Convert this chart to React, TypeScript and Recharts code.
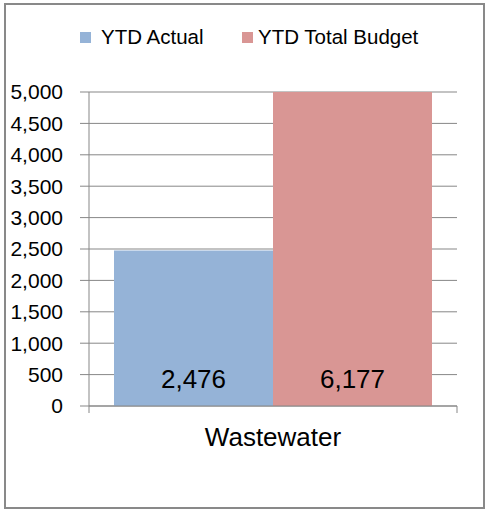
import React from 'react';
import { BarChart, Bar, XAxis, YAxis, CartesianGrid, LabelList } from 'recharts';

const categories = ['Wastewater'];
const ytdActual = [2476];
const ytdTotalBudget = [6177];
const yTicks = [0, 500, 1000, 1500, 2000, 2500, 3000, 3500, 4000, 4500, 5000];

const seriesInfo = [
  { key: 'actual', name: 'YTD Actual', color: '#95B3D7' },
  { key: 'budget', name: 'YTD Total Budget', color: '#D99694' },
];

const data = categories.map((name, i) => ({
  name,
  actual: ytdActual[i],
  budget: ytdTotalBudget[i],
}));

const FONT = '"Liberation Sans", Arial, sans-serif';
const GRID = '#878787';

const fmt = (v: number) => v.toLocaleString('en-US');

// value labels sit near the base of each bar, like Excel's "inside base"
const BaseLabel = (props: any) => {
  const { x, y, width, height, value } = props;
  return (
    <text
      x={x + width / 2}
      y={y + height - 18}
      textAnchor="middle"
      fontSize={26}
      fontFamily={FONT}
      fill="#000"
    >
      {fmt(value)}
    </text>
  );
};

// category tick: label plus tick marks at the category boundaries
const CategoryTick = (props: any) => {
  const { x, y, payload } = props;
  const half = payload && payload.offset ? payload.offset : 184;
  return (
    <g>
      <line x1={x - half} y1={y} x2={x - half} y2={y + 7} stroke={GRID} />
      <line x1={x + half} y1={y} x2={x + half} y2={y + 7} stroke={GRID} />
      <text x={x} y={y + 40} textAnchor="middle" fontSize={26} fontFamily={FONT} fill="#000">
        {payload.value}
      </text>
    </g>
  );
};

export default function App() {
  return (
    <div
      style={{
        position: 'absolute',
        left: 4,
        top: 3,
        width: 477,
        height: 502,
        border: '2px solid #898989',
        background: '#fff',
      }}
    >
      <svg width={477} height={60} style={{ position: 'absolute', left: 0, top: 0 }}>
        <rect x={74} y={27} width={11} height={11} fill={seriesInfo[0].color} />
        <text x={95} y={39} fontSize={20.5} fontFamily={FONT} fill="#000">
          {seriesInfo[0].name}
        </text>
        <rect x={236} y={27} width={11} height={11} fill={seriesInfo[1].color} />
        <text x={252} y={39} fontSize={20.5} fontFamily={FONT} fill="#000">
          {seriesInfo[1].name}
        </text>
      </svg>
      <BarChart
        width={477}
        height={502}
        data={data}
        margin={{ top: 87, right: 26, left: 0, bottom: 41 }}
        barCategoryGap={25}
        barGap={0}
      >
        <CartesianGrid vertical={false} stroke={GRID} />
        <XAxis
          dataKey="name"
          height={60}
          tickLine={false}
          tickSize={0}
          tickMargin={0}
          axisLine={{ stroke: GRID }}
          tick={<CategoryTick />}
        />
        <YAxis
          width={83}
          domain={[0, 5000]}
          ticks={yTicks}
          allowDataOverflow
          interval={0}
          tickSize={9}
          tickMargin={17}
          tickLine={{ stroke: GRID }}
          axisLine={{ stroke: GRID }}
          tickFormatter={fmt}
          tick={{ fontSize: 21, fontFamily: FONT, fill: '#000' }}
        />
        {seriesInfo.map((s) => (
          <Bar key={s.key} dataKey={s.key} name={s.name} fill={s.color} isAnimationActive={false}>
            <LabelList dataKey={s.key} content={<BaseLabel />} />
          </Bar>
        ))}
      </BarChart>
    </div>
  );
}
